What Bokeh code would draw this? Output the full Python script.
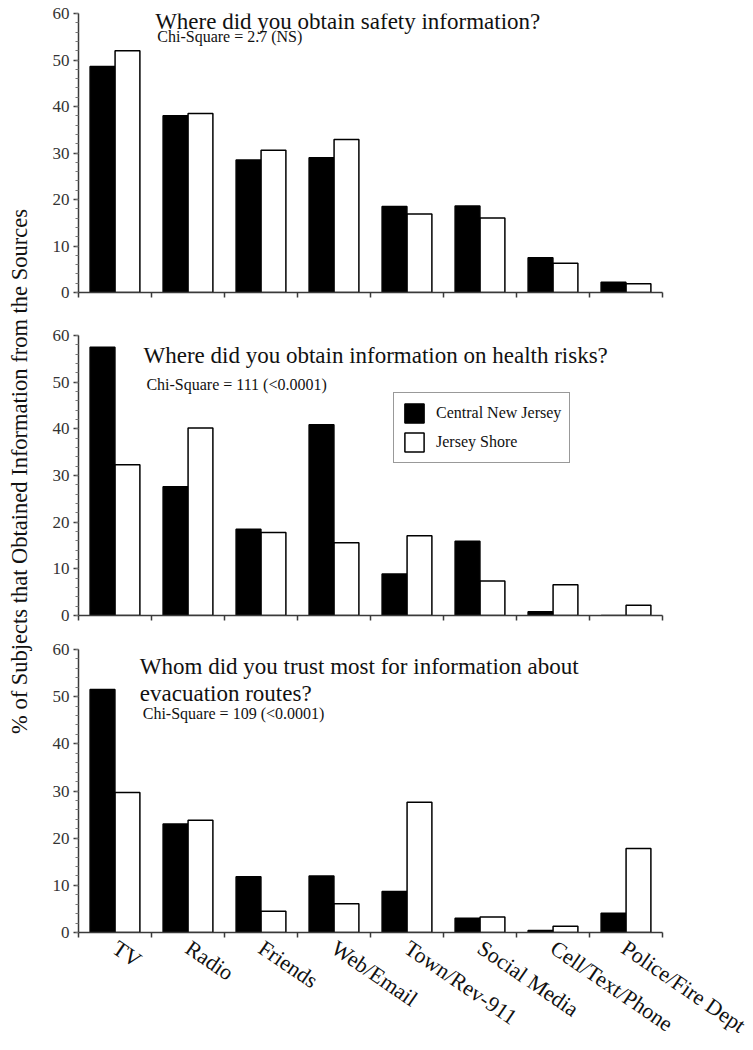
import numpy as np
from bokeh.plotting import figure
from bokeh.layouts import column, row
from bokeh.models import (ColumnDataSource, Range1d, FixedTicker, SingleIntervalTicker,
                          Label, Legend, LegendItem)
from bokeh.transform import dodge
from bokeh.embed import file_html
from bokeh.resources import INLINE

categories = ["TV", "Radio", "Friends", "Web/Email", "Town/Rev-911",
              "Social Media", "Cell/Text/Phone", "Police/Fire Dept"]
series_names = ["Central New Jersey", "Jersey Shore"]

safety_central = [48.6, 38.0, 28.5, 29.0, 18.5, 18.6, 7.5, 2.2]
safety_shore = [52.0, 38.5, 30.6, 32.9, 16.9, 16.0, 6.3, 1.9]

health_central = [57.5, 27.6, 18.5, 40.9, 8.9, 15.9, 0.8, 0.0]
health_shore = [32.3, 40.2, 17.8, 15.6, 17.1, 7.4, 6.6, 2.2]

evac_central = [51.5, 23.0, 11.8, 12.0, 8.7, 3.0, 0.4, 4.1]
evac_shore = [29.7, 23.8, 4.5, 6.1, 27.6, 3.3, 1.3, 17.8]

titles = [
    ["Where did you obtain safety information?"],
    ["Where did you obtain information on health risks?"],
    ["Whom did you trust most for information about", "evacuation routes?"],
]
chi_texts = ["Chi-Square = 2.7 (NS)", "Chi-Square = 111 (<0.0001)", "Chi-Square = 109 (<0.0001)"]
y_label = "% of Subjects that Obtained Information from the Sources"

FONT = "Liberation Serif"
TXT = "#111111"
AX = "#3a3a3a"

n = len(categories)
xpos = np.arange(n) + 0.5
BW = 0.34
OFF = 0.171

# layout (pixels)
FRAME_W = 584
BL, BR = 30, 88
LABEL_W = 48


def panel(central, shore, title_lines, title_pos, chi, chi_pos, height, btop, bbot,
          show_labels=False, legend=False):
    src = ColumnDataSource(dict(x=xpos, central=central, shore=shore))
    p = figure(width=BL + FRAME_W + BR, height=height, output_backend="svg",
               toolbar_location=None, x_range=Range1d(0, n), y_range=Range1d(0, 60),
               min_border_left=BL, min_border_right=BR, min_border_top=btop,
               min_border_bottom=bbot)
    p.outline_line_color = None
    p.xgrid.grid_line_color = None
    p.ygrid.grid_line_color = None
    p.background_fill_color = "white"
    p.border_fill_color = "white"

    r1 = p.vbar(x=dodge("x", -OFF, range=p.x_range), top="central", width=BW, bottom=0,
                source=src, fill_color="black", line_color="black", line_width=1.5)
    r2 = p.vbar(x=dodge("x", OFF, range=p.x_range), top="shore", width=BW, bottom=0,
                source=src, fill_color="white", line_color="black", line_width=1.5)

    ya = p.yaxis[0]
    ya.ticker = SingleIntervalTicker(interval=10, num_minor_ticks=5)
    ya.major_tick_out = 5
    ya.major_tick_in = 0
    ya.minor_tick_out = 3
    ya.minor_tick_in = 0
    ya.axis_line_width = 1.5
    ya.axis_line_color = AX
    ya.major_tick_line_color = AX
    ya.minor_tick_line_color = "#777777"
    ya.major_tick_line_width = 1.5
    ya.major_label_text_font = FONT
    ya.major_label_text_font_size = "17px"
    ya.major_label_text_color = "#333333"
    ya.major_label_standoff = 4

    xa = p.xaxis[0]
    if show_labels:
        xa.ticker = FixedTicker(ticks=list(xpos), minor_ticks=list(range(n + 1)))
        xa.major_label_overrides = {float(v): c for v, c in zip(xpos, categories)}
        xa.major_label_orientation = -0.6
        xa.major_label_text_font = FONT
        xa.major_label_text_font_size = "22px"
        xa.major_label_text_color = TXT
        xa.major_label_standoff = 8
    else:
        xa.ticker = FixedTicker(ticks=[], minor_ticks=list(range(n + 1)))
    xa.major_tick_out = 0
    xa.major_tick_in = 0
    xa.minor_tick_out = 5
    xa.minor_tick_in = 0
    xa.minor_tick_line_color = AX
    xa.minor_tick_line_width = 1.5
    xa.axis_line_width = 1.5
    xa.axis_line_color = AX

    tx, ty, dy = title_pos
    for i, t in enumerate(title_lines):
        p.add_layout(Label(x=tx, y=ty - i * dy, text=t, text_font=FONT,
                           text_font_size="23px", text_color=TXT,
                           text_baseline="alphabetic"))
    cx, cy = chi_pos
    p.add_layout(Label(x=cx, y=cy, text=chi, text_font=FONT, text_font_size="16px",
                       text_color=TXT, text_baseline="alphabetic"))

    if legend:
        lg = Legend(items=[LegendItem(label=series_names[0], renderers=[r1]),
                           LegendItem(label=series_names[1], renderers=[r2])],
                    location=(315, 152), glyph_width=24, glyph_height=24,
                    label_standoff=10, padding=8, spacing=5, margin=0,
                    label_text_font=FONT, label_text_font_size="16px",
                    label_text_color=TXT, border_line_color="#333333",
                    border_line_width=1.5, background_fill_color="white",
                    background_fill_alpha=1.0)
        p.add_layout(lg, "center")
    return p


H1, H2, H3 = 318, 322, 410
p1 = panel(safety_central, safety_shore, titles[0], (1.05, 58.3, 0), chi_texts[0],
           (1.08, 55.1), H1, 13, 26)
p2 = panel(health_central, health_shore, titles[1], (0.89, 55.7, 0), chi_texts[1],
           (0.93, 49.6), H2, 17, 25, legend=True)
p3 = panel(evac_central, evac_shore, titles[2], (0.84, 56.4, 5.65), chi_texts[2],
           (0.88, 46.5), H3, 9, 110, show_labels=True)

total_h = H1 + H2 + H3
lab = figure(width=LABEL_W, height=total_h, output_backend="svg", toolbar_location=None,
             x_range=Range1d(0, LABEL_W), y_range=Range1d(0, total_h),
             min_border=0, min_border_left=0, min_border_right=0,
             min_border_top=0, min_border_bottom=0)
lab.axis.visible = False
lab.grid.visible = False
lab.outline_line_color = None
lab.add_layout(Label(x=19, y=total_h - 471, text=y_label, angle=np.pi / 2,
                     text_font=FONT, text_font_size="22.5px", text_color=TXT,
                     text_align="center", text_baseline="middle"))

layout = row(lab, column(p1, p2, p3))
open("out.html", "w").write(file_html(layout, INLINE))
